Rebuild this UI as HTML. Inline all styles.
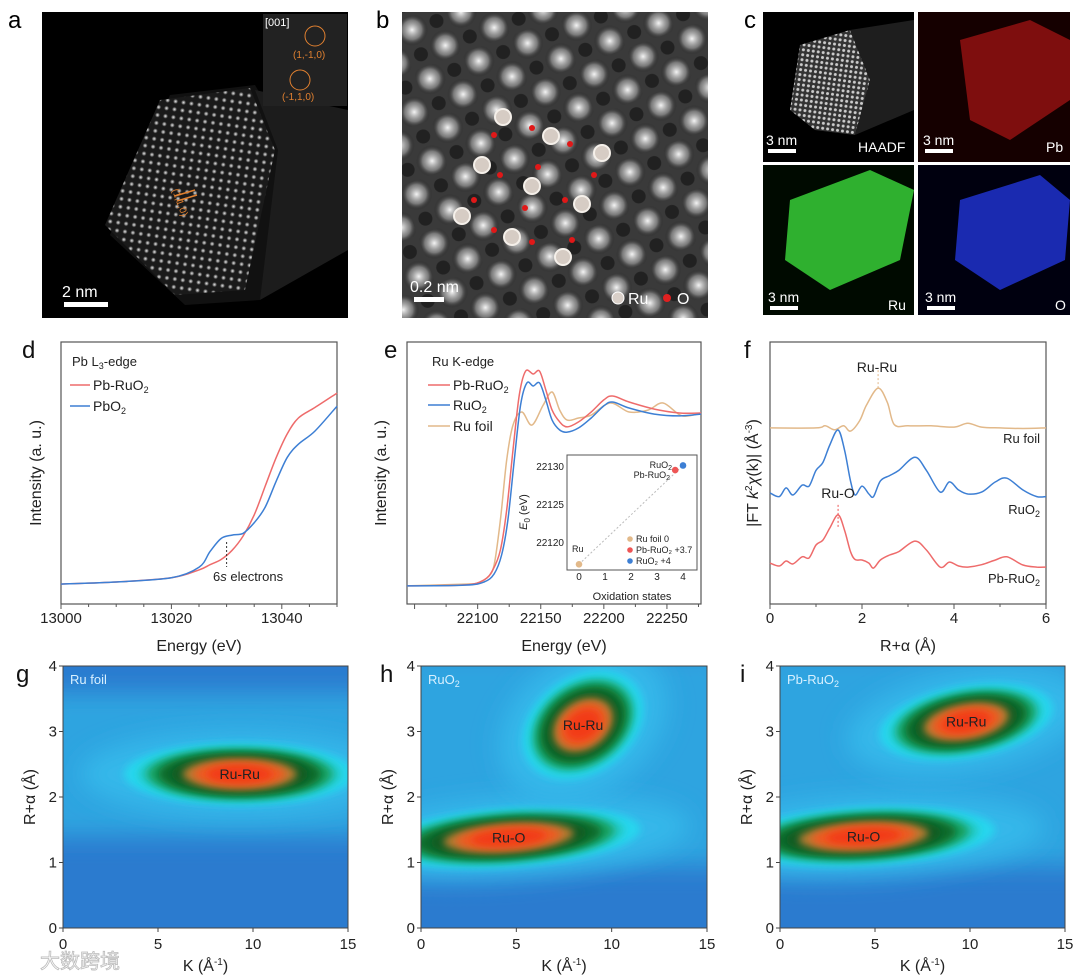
<!DOCTYPE html>
<html><head><meta charset="utf-8">
<style>
html,body{margin:0;padding:0;background:#fff;}
svg{display:block;font-family:"Liberation Sans","Noto Sans CJK SC",sans-serif;}
</style></head>
<body>
<svg id="fig" width="1080" height="975" viewBox="0 0 1080 975" xmlns="http://www.w3.org/2000/svg">
<defs>
  <radialGradient id="atom" cx="50%" cy="50%" r="50%">
    <stop offset="0" stop-color="#fff" stop-opacity="0.95"/>
    <stop offset="0.6" stop-color="#bbb" stop-opacity="0.5"/>
    <stop offset="1" stop-color="#000" stop-opacity="0"/>
  </radialGradient>
  <pattern id="lattA" width="8" height="8" patternUnits="userSpaceOnUse" patternTransform="rotate(8)">
    <rect width="8" height="8" fill="#1a1a1a"/><circle cx="4" cy="4" r="2.8" fill="url(#atom)"/>
  </pattern>
  <pattern id="lattB" width="52" height="52" patternUnits="userSpaceOnUse" patternTransform="rotate(-20)">
    <rect width="52" height="52" fill="#3a3a3a"/>
    <circle cx="13" cy="13" r="16" fill="url(#atom)"/>
    <circle cx="39" cy="39" r="16" fill="url(#atom)"/>
    <circle cx="39" cy="13" r="7" fill="#111" opacity="0.6"/>
    <circle cx="13" cy="39" r="7" fill="#111" opacity="0.6"/>
  </pattern>
  <pattern id="lattC" width="5" height="5" patternUnits="userSpaceOnUse" patternTransform="rotate(8)">
    <rect width="5" height="5" fill="#333"/><circle cx="2.5" cy="2.5" r="1.5" fill="#ccc"/>
  </pattern>
  <filter id="blur4" x="-50%" y="-50%" width="200%" height="200%"><feGaussianBlur stdDeviation="4"/></filter>
  <filter id="blur12" x="-50%" y="-50%" width="200%" height="200%"><feGaussianBlur stdDeviation="12"/></filter>
</defs>

<!-- Panel a -->
<g>
  <rect x="42" y="12" width="306" height="306" fill="#000"/>
  <polygon points="170,95 255,85 300,160 260,300 185,305 110,235" fill="#111"/>
  <polygon points="160,100 250,88 275,150 245,290 175,295 105,225" fill="url(#lattA)"/>
  <polygon points="255,90 348,110 348,250 260,300 278,150" fill="#1c1c1c"/>
  <rect x="263" y="14" width="84" height="92" fill="#222"/>
  <text x="265" y="26" fill="#fff" font-size="11">[001]</text>
  <circle cx="315" cy="36" r="10" fill="none" stroke="#e08030"/>
  <circle cx="300" cy="80" r="10" fill="none" stroke="#e08030"/>
  <text x="293" y="58" fill="#e08030" font-size="10">(1,-1,0)</text>
  <text x="282" y="100" fill="#e08030" font-size="10">(-1,1,0)</text>
  <text x="172" y="190" fill="#e08030" font-size="10" transform="rotate(70 172 190)">(1,1,0)</text>
  <line x1="175" y1="196" x2="195" y2="190" stroke="#e08030" stroke-width="1.5"/>
  <line x1="177" y1="201" x2="197" y2="195" stroke="#e08030" stroke-width="1.5"/>
  <text x="62" y="297" fill="#fff" font-size="16">2 nm</text>
  <rect x="64" y="302" width="44" height="5" fill="#fff"/>
</g>
<text x="8" y="28" font-size="24">a</text>

<!-- Panel b -->
<g>
  <rect x="402" y="12" width="306" height="306" fill="url(#lattB)"/>
  <text x="410" y="292" fill="#fff" font-size="16">0.2 nm</text>
  <rect x="414" y="297" width="30" height="5" fill="#fff"/>
  <circle cx="618" cy="298" r="6" fill="#d8cfc8" stroke="#fff"/>
  <text x="628" y="304" fill="#fff" font-size="16">Ru</text>
  <circle cx="667" cy="298" r="4" fill="#e02020"/>
  <text x="677" y="304" fill="#fff" font-size="16">O</text>
</g>
<text x="376" y="28" font-size="24">b</text>
<g id="bAtoms"></g>

<!-- Panel c -->
<g>
  <rect x="763" y="12" width="151" height="150" fill="#000"/>
  <polygon points="800,45 850,30 870,80 855,135 815,130 790,110" fill="url(#lattC)"/>
  <polygon points="850,30 914,20 914,110 855,135 870,80" fill="#1e1e1e"/>
  <rect x="918" y="12" width="152" height="150" fill="#150000"/>
  <polygon points="960,40 1030,20 1070,40 1070,100 1010,140 970,120" fill="#8a1010" opacity="0.9"/>
  <rect x="763" y="165" width="151" height="150" fill="#000a00"/>
  <polygon points="790,200 870,170 914,190 900,260 830,290 785,260" fill="#2fb02f"/>
  <rect x="918" y="165" width="152" height="150" fill="#00000f"/>
  <polygon points="960,200 1040,175 1070,200 1065,260 1000,290 955,260" fill="#1a2ab0"/>
  <text x="766" y="145" fill="#fff" font-size="14">3 nm</text><rect x="768" y="149" width="28" height="4" fill="#fff"/>
  <text x="858" y="152" fill="#fff" font-size="14">HAADF</text>
  <text x="923" y="145" fill="#fff" font-size="14">3 nm</text><rect x="925" y="149" width="28" height="4" fill="#fff"/>
  <text x="1046" y="152" fill="#fff" font-size="14">Pb</text>
  <text x="768" y="302" fill="#fff" font-size="14">3 nm</text><rect x="770" y="306" width="28" height="4" fill="#fff"/>
  <text x="888" y="310" fill="#fff" font-size="14">Ru</text>
  <text x="925" y="302" fill="#fff" font-size="14">3 nm</text><rect x="927" y="306" width="28" height="4" fill="#fff"/>
  <text x="1055" y="310" fill="#fff" font-size="14">O</text>
</g>
<text x="744" y="28" font-size="24">c</text>

<g id="charts"></g>
<text x="40" y="968" font-size="20" fill="#fff" stroke="#bbb" stroke-width="0.8">大数跨境</text>
</svg>

<script>
// ---------------- data ----------------
// Panel d: Pb L3-edge XANES
const dEnergy = [13000,13010,13020,13025,13027,13029,13031,13033,13035,13037,13039,13041,13043,13046,13050];
const dPbRuO2 = [0.076,0.084,0.10,0.13,0.15,0.17,0.205,0.26,0.34,0.45,0.56,0.65,0.71,0.75,0.805];
const dPbO2   = [0.076,0.084,0.10,0.14,0.20,0.25,0.263,0.27,0.31,0.37,0.47,0.56,0.61,0.66,0.755];
const dTicks = [13000,13020,13040];

// Panel e: Ru K-edge XANES
const eEnergyR = [22044,22090,22105,22112,22118,22123,22128,22133,22138,22144,22149,22154,22159,22165,22171,22180,22190,22200,22207,22220,22240,22260,22277];
const ePbRuO2 = [0.069,0.073,0.092,0.13,0.206,0.359,0.588,0.798,0.889,0.878,0.889,0.817,0.740,0.695,0.676,0.695,0.733,0.779,0.794,0.771,0.744,0.729,0.729];
const eEnergyB = [22044,22090,22105,22113,22119,22124,22129,22134,22139,22144,22149,22154,22159,22165,22171,22180,22190,22200,22207,22220,22240,22260,22277];
const eRuO2 = [0.069,0.072,0.084,0.115,0.187,0.321,0.55,0.76,0.844,0.832,0.844,0.779,0.702,0.664,0.656,0.672,0.71,0.756,0.771,0.748,0.725,0.718,0.725];
const eEnergyF = [22044,22090,22100,22108,22113,22118,22123,22128,22135,22143,22152,22159,22165,22171,22180,22190,22205,22220,22235,22247,22262,22277];
const eRuFoil = [0.069,0.076,0.08,0.103,0.149,0.321,0.55,0.683,0.733,0.683,0.76,0.809,0.74,0.702,0.71,0.721,0.767,0.733,0.74,0.767,0.718,0.729];
const eTicks = [22100,22150,22200,22250];
// inset
const insetOx = [0,3.7,4];
const insetE0 = [22117.2,22129.6,22130.2];
const insetNames = ["Ru foil 0","Pb-RuO\u2082 +3.7","RuO\u2082 +4"];
const insetYTicks = [22120,22125,22130];
const insetXTicks = [0,1,2,3,4];

// Panel f: FT-EXAFS
const fR = [0,0.2,0.35,0.5,0.7,0.85,1.0,1.15,1.3,1.48,1.62,1.75,1.85,2.0,2.15,2.25,2.4,2.6,2.8,3.15,3.4,3.7,3.9,4.1,4.3,4.6,4.9,5.15,5.5,5.8,6];
const fRuO2 = [0.424,0.41,0.443,0.416,0.454,0.45,0.51,0.54,0.607,0.664,0.588,0.47,0.416,0.45,0.42,0.41,0.47,0.49,0.51,0.56,0.51,0.427,0.466,0.435,0.42,0.427,0.466,0.48,0.435,0.41,0.41];
const fPbRuO2 = [0.156,0.145,0.164,0.153,0.18,0.176,0.225,0.244,0.29,0.34,0.282,0.2,0.17,0.168,0.156,0.137,0.168,0.187,0.2,0.24,0.206,0.141,0.16,0.145,0.141,0.15,0.168,0.18,0.149,0.141,0.141];
const fRfoil = [0,1.0,1.2,1.4,1.6,1.75,1.95,2.1,2.35,2.55,2.7,3.0,3.5,4.0,4.3,4.6,5.0,5.5,6.0];
const fRuFoil = [0.672,0.672,0.68,0.665,0.68,0.66,0.70,0.76,0.824,0.77,0.685,0.68,0.68,0.675,0.69,0.675,0.672,0.67,0.672];
const fTicks = [0,2,4,6];

// Wavelet transforms g/h/i
const gPeakK = [9.3];  const gPeakR = [2.35]; const gPeakKW = [5.8]; const gPeakRW = [0.45]; const gPeakTilt=[0]; const gPeakName=["Ru-Ru"];
const hPeakK = [4.6, 8.5]; const hPeakR = [1.38, 3.1]; const hPeakKW = [6.6, 3.3]; const hPeakRW = [0.42, 0.7]; const hPeakTilt=[-4,-35]; const hPeakName=["Ru-O","Ru-Ru"];
const iPeakK = [4.4, 9.8]; const iPeakR = [1.4, 3.15]; const iPeakKW = [6.6, 4.4]; const iPeakRW = [0.42, 0.52]; const iPeakTilt=[-3,-10]; const iPeakName=["Ru-O","Ru-Ru"];
const wtKTicks = [0,5,10,15];
const wtRTicks = [0,1,2,3,4];

// ---------------- helpers ----------------
const NS="http://www.w3.org/2000/svg";
const root=document.getElementById('charts');
function mk(tag, attrs, parent){const e=document.createElementNS(NS,tag);for(const k in attrs)e.setAttribute(k,attrs[k]);(parent||root).appendChild(e);return e;}
function lin(d0,d1,r0,r1){return v=>r0+(v-d0)*(r1-r0)/(d1-d0);}
function smooth(pts){let d="M"+pts[0][0]+","+pts[0][1];for(let i=0;i<pts.length-1;i++){const p0=pts[Math.max(0,i-1)],p1=pts[i],p2=pts[i+1],p3=pts[Math.min(pts.length-1,i+2)];const c1=[p1[0]+(p2[0]-p0[0])/6,p1[1]+(p2[1]-p0[1])/6],c2=[p2[0]-(p3[0]-p1[0])/6,p2[1]-(p3[1]-p1[1])/6];d+=" C"+c1[0].toFixed(1)+","+c1[1].toFixed(1)+" "+c2[0].toFixed(1)+","+c2[1].toFixed(1)+" "+p2[0].toFixed(1)+","+p2[1].toFixed(1);}return d;}
function text(x,y,s,size,attrs){const t=mk('text',Object.assign({x:x,y:y,'font-size':size},attrs||{}));t.textContent=s;return t;}

// ---------------- b overlay ----------------
(function(){
  const g=document.getElementById('bAtoms');
  const ru=[[503,117],[551,136],[602,153],[482,165],[532,186],[462,216],[582,204],[512,237],[563,257]];
  const ox=[[532,128],[494,135],[570,144],[538,167],[500,175],[594,175],[474,200],[565,200],[525,208],[494,230],[572,240],[532,242]];
  ru.forEach(p=>{const c=document.createElementNS(NS,'circle');c.setAttribute('cx',p[0]);c.setAttribute('cy',p[1]);c.setAttribute('r',8);c.setAttribute('fill','#d6ccc4');c.setAttribute('stroke','#f5f0ea');c.setAttribute('stroke-width','2');
    
    
    g.appendChild(c);});
  ox.forEach(p=>{const c=document.createElementNS(NS,'circle');c.setAttribute('cx',p[0]);c.setAttribute('cy',p[1]);c.setAttribute('r',3);c.setAttribute('fill','#e01818');
    
    
    g.appendChild(c);});
})();

// ---------------- panel d ----------------
(function(){
  const L=61,R=337,T=342,B=604;
  const x=lin(13000,13050,L,R), y=lin(0,1,B,T);
  const g=mk('g',{});
  
  
  const box=mk('rect',{x:L,y:T,width:R-L,height:B-T,fill:'none',stroke:'#555','stroke-width':1.2},g);
  
  
  for(let v=13000;v<=13050;v+=5){const t=mk('line',{x1:x(v),x2:x(v),y1:B,y2:B+(v%20==0?5:3),stroke:'#555'},g);
    
    }
  dTicks.forEach(v=>{const t=text(x(v),623,v,15,{'text-anchor':'middle',fill:'#222'});g.appendChild(t);
    
    });
  const xt=text(199,651,'Energy (eV)',16,{'text-anchor':'middle',fill:'#222'});g.appendChild(xt);
  
  
  const yt=text(0,0,'Intensity (a. u.)',16,{'text-anchor':'middle',fill:'#222',transform:'translate(41,473) rotate(-90)'});g.appendChild(yt);
  
  
  const p1=mk('path',{d:smooth(dEnergy.map((e,i)=>[x(e),y(dPbRuO2[i])])),fill:'none',stroke:'#ee6b6b','stroke-width':1.5},g);
  
  
  const p2=mk('path',{d:smooth(dEnergy.map((e,i)=>[x(e),y(dPbO2[i])])),fill:'none',stroke:'#3d7fd4','stroke-width':1.5},g);
  
  
  const an=mk('line',{x1:x(13030),x2:x(13030),y1:542,y2:567,stroke:'#333','stroke-dasharray':'2,2'},g);
  
  
  const at=mk('text',{x:213,y:581,'font-size':13,fill:'#222'},g);
  at.innerHTML='6<tspan font-style="italic">s</tspan> electrons';
  
  
  const lt=mk('text',{x:72,y:366,'font-size':13,fill:'#222'},g);
  lt.innerHTML='Pb L<tspan font-size="9" dy="3">3</tspan><tspan dy="-3">-edge</tspan>';
  
  
  [['Pb-RuO','#ee6b6b',390],['PbO','#3d7fd4',411]].forEach(l=>{
    const le=mk('line',{x1:70,x2:90,y1:l[2]-5,y2:l[2]-5,stroke:l[1],'stroke-width':1.5},g);
    
    
    const tt=mk('text',{x:93,y:l[2],'font-size':14,fill:'#222'},g);
    tt.innerHTML=l[0]+'<tspan font-size="9" dy="3">2</tspan>';
    
    
  });
  const pl=text(22,358,'d',24,{fill:'#111'});g.appendChild(pl);
  
  
})();

// ---------------- panel e ----------------
(function(){
  const L=407,R=701,T=342,B=604;
  const x=lin(22044,22277,L,R), y=lin(0,1,B,T);
  const g=mk('g',{});
  
  
  const box=mk('rect',{x:L,y:T,width:R-L,height:B-T,fill:'none',stroke:'#555','stroke-width':1.2},g);
  
  
  for(let v=22050;v<=22275;v+=25){const t=mk('line',{x1:x(v),x2:x(v),y1:B,y2:B+(v%50==0?5:3),stroke:'#555'},g);
    
    }
  eTicks.forEach(v=>{const t=text(x(v),623,v,15,{'text-anchor':'middle',fill:'#222'});g.appendChild(t);
    
    });
  const xt=text(564,651,'Energy (eV)',16,{'text-anchor':'middle',fill:'#222'});g.appendChild(xt);
  
  
  const yt=text(0,0,'Intensity (a. u.)',16,{'text-anchor':'middle',fill:'#222',transform:'translate(386,473) rotate(-90)'});g.appendChild(yt);
  
  
  const p3=mk('path',{d:smooth(eEnergyF.map((e,i)=>[x(e),y(eRuFoil[i])])),fill:'none',stroke:'#e2b98a','stroke-width':1.5},g);
  
  
  const p1=mk('path',{d:smooth(eEnergyR.map((e,i)=>[x(e),y(ePbRuO2[i])])),fill:'none',stroke:'#ee6b6b','stroke-width':1.5},g);
  
  
  const p2=mk('path',{d:smooth(eEnergyB.map((e,i)=>[x(e),y(eRuO2[i])])),fill:'none',stroke:'#3d7fd4','stroke-width':1.5},g);
  
  
  const lt=text(432,366,'Ru K-edge',13,{fill:'#222'});g.appendChild(lt);
  
  
  [['Pb-RuO','#ee6b6b',390,true],['RuO','#3d7fd4',410,true],['Ru foil','#e2b98a',431,false]].forEach(l=>{
    const le=mk('line',{x1:428,x2:450,y1:l[2]-5,y2:l[2]-5,stroke:l[1],'stroke-width':1.5},g);
    
    
    const tt=mk('text',{x:453,y:l[2],'font-size':14,fill:'#222'},g);
    tt.innerHTML=l[0]+(l[3]?'<tspan font-size="9" dy="3">2</tspan>':'');
    
    
  });
  const iL=567,iR=697,iT=455,iB=570;
  const ix=lin(0,4,579,683), iy=lin(22120,22130,543,467);
  const ig=mk('g',{},g);
  
  
  const ib=mk('rect',{x:iL,y:iT,width:iR-iL,height:iB-iT,fill:'#fff',stroke:'#555'},ig);
  
  
  const dl=mk('line',{x1:ix(0),y1:iy(insetE0[0]),x2:ix(4),y2:iy(insetE0[2]),stroke:'#bbb','stroke-dasharray':'2,2'},ig);
  
  
  const cols=['#e2b98a','#ee5555','#3d7fd4'];
  insetOx.forEach((o,i)=>{const c=mk('circle',{cx:ix(o),cy:iy(insetE0[i]),r:3.3,fill:cols[i]},ig);
    
    });
  insetYTicks.forEach(v=>{const t=text(iL-3,iy(v)+3,v,10,{'text-anchor':'end',fill:'#222'});ig.appendChild(t);
    
    });
  insetXTicks.forEach(v=>{const t=text(ix(v),iB+10,v,10,{'text-anchor':'middle',fill:'#222'});ig.appendChild(t);
    
    });
  const ixt=text(632,600,'Oxidation states',11,{'text-anchor':'middle',fill:'#222'});ig.appendChild(ixt);
  
  
  const iyt=mk('text',{'font-size':11,fill:'#222','text-anchor':'middle',transform:'translate(527,512) rotate(-90)'},ig);
  iyt.innerHTML='<tspan font-style="italic">E</tspan><tspan font-size="8" dy="3">0</tspan><tspan dy="-3"> (eV)</tspan>';
  
  
  const a1=mk('text',{x:672,y:468,'font-size':9,fill:'#222','text-anchor':'end'},ig);a1.innerHTML='RuO<tspan font-size="7" dy="2">2</tspan>';
  
  
  const a2=mk('text',{x:670,y:478,'font-size':9,fill:'#222','text-anchor':'end'},ig);a2.innerHTML='Pb-RuO<tspan font-size="7" dy="2">2</tspan>';
  
  
  const a3=text(572,552,'Ru',9,{fill:'#222'});ig.appendChild(a3);
  
  
  insetNames.forEach((n,i)=>{
    const c=mk('circle',{cx:630,cy:539+i*11,r:2.8,fill:cols[i]},ig);
    
    
    const t=text(636,542+i*11,n,9,{fill:'#222'});ig.appendChild(t);
    
    
  });
  const pl=text(384,358,'e',24,{fill:'#111'});g.appendChild(pl);
  
  
})();

// ---------------- panel f ----------------
(function(){
  const L=770,R=1046,T=342,B=604;
  const x=lin(0,6,L,R), y=lin(0,1,B,T);
  const g=mk('g',{});
  
  
  const box=mk('rect',{x:L,y:T,width:R-L,height:B-T,fill:'none',stroke:'#555','stroke-width':1.2},g);
  
  
  for(let v=0;v<=6;v+=1){const t=mk('line',{x1:x(v),x2:x(v),y1:B,y2:B+(v%2==0?5:3),stroke:'#555'},g);
    
    }
  fTicks.forEach(v=>{const t=text(x(v),623,v,15,{'text-anchor':'middle',fill:'#222'});g.appendChild(t);
    
    });
  const xt=text(908,651,'R+\u03b1 (\u00c5)',16,{'text-anchor':'middle',fill:'#222'});g.appendChild(xt);
  
  
  const yt=mk('text',{'font-size':16,fill:'#222','text-anchor':'middle',transform:'translate(758,473) rotate(-90)'},g);
  yt.innerHTML='|FT <tspan font-style="italic">k</tspan><tspan font-size="10" dy="-6">2</tspan><tspan dy="6" font-style="italic">\u03c7</tspan>(k)| (\u00c5<tspan font-size="10" dy="-6">-3</tspan><tspan dy="6">)</tspan>';
  
  
  const p3=mk('path',{d:smooth(fRfoil.map((r,i)=>[x(r),y(fRuFoil[i])])),fill:'none',stroke:'#e2b98a','stroke-width':1.5},g);
  
  
  const p2=mk('path',{d:smooth(fR.map((r,i)=>[x(r),y(fRuO2[i])])),fill:'none',stroke:'#3d7fd4','stroke-width':1.5},g);
  
  
  const p1=mk('path',{d:smooth(fR.map((r,i)=>[x(r),y(fPbRuO2[i])])),fill:'none',stroke:'#ee6b6b','stroke-width':1.5},g);
  
  
  const d1=mk('line',{x1:x(2.35),x2:x(2.35),y1:y(0.824),y2:y(0.824)-18,stroke:'#e2b98a','stroke-dasharray':'2,2'},g);
  
  
  const d2=mk('line',{x1:x(1.48),x2:x(1.48),y1:y(0.34)+12,y2:y(0.34)-12,stroke:'#ee5555','stroke-dasharray':'2,2'},g);
  
  
  [['Ru-Ru',877,372],['Ru-O',838,498]].forEach(a=>{const t=text(a[1],a[2],a[0],14,{'text-anchor':'middle',fill:'#222'});g.appendChild(t);
    
    });
  const l1=text(1040,443,'Ru foil',13,{'text-anchor':'end',fill:'#222'});g.appendChild(l1);
  
  
  const l2=mk('text',{x:1040,y:514,'font-size':13,fill:'#222','text-anchor':'end'},g);l2.innerHTML='RuO<tspan font-size="9" dy="3">2</tspan>';
  
  
  const l3=mk('text',{x:1040,y:583,'font-size':13,fill:'#222','text-anchor':'end'},g);l3.innerHTML='Pb-RuO<tspan font-size="9" dy="3">2</tspan>';
  
  
  const pl=text(744,358,'f',24,{fill:'#111'});g.appendChild(pl);
  
  
})();

// ---------------- wavelet panels ----------------
function wt(id,L,R,title,subscript,letter,letterX,pk,pr,pkw,prw,tilt,names,upper){
  const T=666,B=928;
  const x=lin(0,15,L,R), y=lin(0,4,B,T);
  const g=mk('g',{});
  
  
  const cp=mk('clipPath',{id:'clip'+id},g);
  mk('rect',{x:L,y:T,width:R-L,height:B-T},cp);
  const hm=mk('g',{'clip-path':'url(#clip'+id+')'},g);
  
  
  mk('rect',{x:L,y:T,width:R-L,height:B-T,fill:'#2b7bcf'},hm);
  mk('rect',{x:L-20,y:y(upper[1]),width:R-L+40,height:y(upper[0])-y(upper[1]),fill:'#2ea4e0',filter:'url(#blur12)'},hm);
  const layers=[[1.45,'#34b8ea',12],[1.05,'#28d6ee',4],[0.92,'#22c8c0',3],[0.84,'#14a060',3],[0.74,'#0a6a2c',3],[0.62,'#0d5a22',3],[0.52,'#b77a30',4],[0.42,'#ef5a20',4],[0.3,'#f23a18',4]];
  pk.forEach((k,i)=>{
    const cx=x(k), cy=y(pr[i]), rx=x(pkw[i])-x(0), ry=y(0)-y(prw[i]);
    layers.forEach(ly=>{
      const e=mk('ellipse',{cx:cx,cy:cy,rx:rx*ly[0],ry:ry*ly[0],fill:ly[1],filter:ly[2]>8?'url(#blur12)':'url(#blur4)',transform:'rotate('+tilt[i]+' '+cx+' '+cy+')'},hm);
      
      
    });
    const t=text(cx,cy+5,names[i],14,{'text-anchor':'middle',fill:'#222'});hm.appendChild(t);
    
    
  });
  const box=mk('rect',{x:L,y:T,width:R-L,height:B-T,fill:'none',stroke:'#444','stroke-width':1},g);
  
  
  wtKTicks.forEach(v=>{const tk=mk('line',{x1:x(v),x2:x(v),y1:B,y2:B+4,stroke:'#444'},g);
    
    
    const t=text(x(v),949,v,15,{'text-anchor':'middle',fill:'#222'});g.appendChild(t);
    
    });
  wtRTicks.forEach(v=>{const tk=mk('line',{x1:L-4,x2:L,y1:y(v),y2:y(v),stroke:'#444'},g);
    
    
    const t=text(L-6,y(v)+5,v,15,{'text-anchor':'end',fill:'#222'});g.appendChild(t);
    
    });
  const xt=mk('text',{x:(L+R)/2,y:971,'font-size':16,fill:'#222','text-anchor':'middle'},g);
  xt.innerHTML='K (\u00c5<tspan font-size="10" dy="-6">-1</tspan><tspan dy="6">)</tspan>';
  
  
  const yt=text(0,0,'R+\u03b1 (\u00c5)',16,{'text-anchor':'middle',fill:'#222',transform:'translate('+(L-28)+',797) rotate(-90)'});g.appendChild(yt);
  
  
  const tt=mk('text',{x:L+7,y:T+18,'font-size':13,fill:'#d8f0ff'},g);
  tt.innerHTML=title+(subscript?'<tspan font-size="9" dy="3">2</tspan>':'');
  
  
  const pl=text(letterX,682,letter,24,{fill:'#111'});g.appendChild(pl);
  
  
}
wt('g',63,348,'Ru foil',false,'g',16,gPeakK,gPeakR,gPeakKW,gPeakRW,gPeakTilt,gPeakName,[1.4,3.6]);
wt('h',421,707,'RuO',true,'h',380,hPeakK,hPeakR,hPeakKW,hPeakRW,hPeakTilt,hPeakName,[0.95,4.2]);
wt('i',780,1065,'Pb-RuO',true,'i',740,iPeakK,iPeakR,iPeakKW,iPeakRW,iPeakTilt,iPeakName,[0.95,4.2]);
</script>
</body></html>
